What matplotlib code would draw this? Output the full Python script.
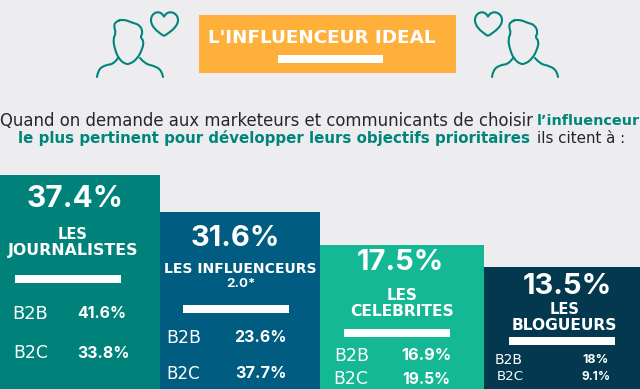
#!/usr/bin/env python
# -*- coding: utf-8
"""
Plots the "influenceur ideal" stepped panels
"""
import matplotlib
matplotlib.use('Agg')
import matplotlib.pyplot as plt
from matplotlib.path import Path
from matplotlib.patches import PathPatch, Rectangle

BG = '#EDEDF0'
TEAL = '#00857A'
INK = '#26262B'

shares = ['37.4%', '31.6%', '17.5%', '13.5%']
names = [['LES', 'JOURNALISTES'], ['LES INFLUENCEURS', '2.0*'], ['LES', 'CELEBRITES'], ['LES', 'BLOGUEURS']]
b2b = ['41.6%', '23.6%', '16.9%', '18%']
b2c = ['33.8%', '37.7%', '19.5%', '9.1%']
bar_left = [0, 160, 320, 484]
bar_width = [160, 160, 164, 156]
bar_top = [175, 212, 245, 267]
bar_colors = ['#00827A', '#005C80', '#15B894', '#03384F']

# text is placed by left edge, centre height and pixel width
share_x = [27, 191, 357, 523]
share_y = [199, 238, 263, 286]
share_w = [96, 89, 87, 89]
name_x = [[58, 8], [164, 226], [387, 350], [550, 512]]
name_y = [[234, 251], [269, 284], [295, 311], [309, 326]]
name_w = [[30, 130], [153, 29], [31, 105], [30, 106]]
rule_x = [15, 183, 344, 509]
rule_y = [275, 305, 329, 337]
label_x = [[12, 13], [166, 166], [334, 333], [495, 497]]
label_w = [[36, 35], [35, 34], [35, 35], [28, 27]]
value_x = [[77, 77], [234, 235], [401, 402], [582, 581]]
value_w = [[49, 52], [52, 51], [50, 48], [26, 29]]
b2b_y = [314, 338, 356, 360]
b2c_y = [353, 374, 379, 377]


def put(ax, s, x, y, width, color='white', weight='normal', family='DejaVu Sans'):
    """
    Writes s from x with the font size that gives it the wanted pixel width
    """
    t = ax.text(x, y, s, color=color, fontsize=10, fontweight=weight, family=family,
                va='center', ha='left')
    w = t.get_window_extent(ax.figure.canvas.get_renderer()).width
    t.set_fontsize(10 * width / w)
    return t


def smooth(ax, pts, closed=False):
    """
    Draws a rounded outline through the midpoints of pts
    """
    if closed:
        pts = pts + pts[:2]
    mids = [((a[0] + b[0]) / 2, (a[1] + b[1]) / 2) for a, b in zip(pts[:-1], pts[1:])]
    verts = [mids[0] if closed else pts[0]]
    codes = [Path.MOVETO]
    for k in range(1, len(pts) - 1):
        verts += [pts[k], mids[k]]
        codes += [Path.CURVE3, Path.CURVE3]
    if not closed:
        verts[-1] = pts[-1]
    ax.add_patch(PathPatch(Path(verts, codes), fill=False, ec=TEAL, lw=1.5, capstyle='round'))


def person(ax, dx):
    """
    Draws the outline of a head with shoulders
    """
    head = [(115, 22), (123, 19), (133, 23), (140, 25), (143, 33), (140, 37), (144, 41),
            (142, 50), (137, 59), (130, 64), (125, 64), (119, 59), (115, 50), (113, 39),
            (116, 33), (114, 27)]
    left = [(97, 77), (98, 70), (105, 65), (114, 64), (118, 58)]
    right = [(140, 58), (145, 64), (155, 66), (162, 71), (163, 77)]
    smooth(ax, [(x + dx, y) for x, y in head], closed=True)
    smooth(ax, [(x + dx, y) for x, y in left])
    smooth(ax, [(x + dx, y) for x, y in right])


def heart(ax, dx):
    """
    Draws a small outlined heart
    """
    verts = [(164, 36), (156, 31), (151, 26), (151, 20), (151, 12), (161, 9), (164, 17),
             (167, 9), (178, 12), (178, 20), (178, 26), (172, 31), (164, 36)]
    verts = [(x + dx, y) for x, y in verts]
    codes = [Path.MOVETO] + [Path.CURVE4] * 12
    ax.add_patch(PathPatch(Path(verts, codes), fill=False, ec=TEAL, lw=1.5))


def main():
    fig = plt.figure(figsize=(6.4, 3.89), dpi=100, facecolor=BG)
    ax = fig.add_axes([0, 0, 1, 1])
    ax.set_xlim(0, 640)
    ax.set_ylim(389, 0)
    ax.axis('off')

    # header
    ax.add_patch(Rectangle((199, 15), 257, 58, fc='#FFB03B', ec='none'))
    put(ax, "L'INFLUENCEUR IDEAL", 208, 38, 229, weight='bold')
    ax.add_patch(Rectangle((278, 55), 105, 8, fc='white', ec='none'))
    person(ax, 0)
    heart(ax, 0)
    person(ax, 395)
    heart(ax, 324)

    # sentence
    put(ax, 'Quand on demande aux marketeurs et communicants de choisir', 0, 121, 532, color=INK)
    put(ax, 'l\u2019influenceur', 537, 121, 102, color=TEAL, weight='bold')
    put(ax, 'le plus pertinent pour d\u00e9velopper leurs objectifs prioritaires', 18, 138, 513,
        color=TEAL, weight='bold')
    put(ax, 'ils citent \u00e0 :', 537, 138, 88, color=INK)

    # panels
    ax.bar(bar_left, [389 - t for t in bar_top], width=bar_width, bottom=bar_top, align='edge',
           color=bar_colors, linewidth=0)
    for i in range(4):
        put(ax, shares[i], share_x[i], share_y[i], share_w[i], weight='bold', family='Inter')
        for j in range(2):
            fam = 'Inter' if names[i][j] == '2.0*' else 'DejaVu Sans'
            put(ax, names[i][j], name_x[i][j], name_y[i][j], name_w[i][j], weight='bold', family=fam)
        ax.add_patch(Rectangle((rule_x[i], rule_y[i]), 106, 8, fc='white', ec='none'))
        put(ax, 'B2B', label_x[i][0], b2b_y[i], label_w[i][0])
        put(ax, 'B2C', label_x[i][1], b2c_y[i], label_w[i][1])
        put(ax, b2b[i], value_x[i][0], b2b_y[i], value_w[i][0], weight='bold', family='Inter')
        put(ax, b2c[i], value_x[i][1], b2c_y[i], value_w[i][1], weight='bold', family='Inter')

    fig.savefig('out.png', dpi=100, facecolor=BG)


if __name__ == "__main__":
    main()
